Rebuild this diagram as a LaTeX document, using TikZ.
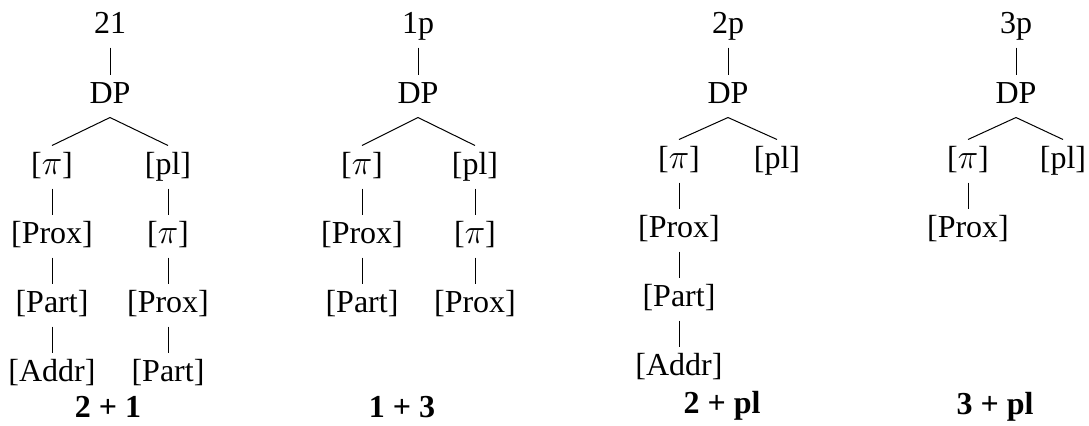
\documentclass[tikz,border=0pt]{standalone}
\usepackage{fontspec}
\setmainfont{Liberation Serif}
\begin{document}
\begin{tikzpicture}[x=0.5pt, y=-0.5pt, font=\fontsize{16}{19}\selectfont, line width=0.5pt,
    feat/.style={anchor=base, inner sep=1pt, text height=13pt, text depth=6pt},
    sum/.style={anchor=base, font=\fontsize{16}{19}\selectfont\bfseries}]
    \useasboundingbox (0,0) rectangle (1089,425);
    % 2 + 1
    \node[feat] (a0) at (110,33) {21};
    \node[feat] (ad) at (110,103) {DP};
    \node[feat] (al1) at (52,174) {[$\pi$]};
    \node[feat] (al2) at (52,243) {[Prox]};
    \node[feat] (al3) at (52,312) {[Part]};
    \node[feat] (al4) at (52,381) {[Addr]};
    \node[feat] (ar1) at (168,174) {[pl]};
    \node[feat] (ar2) at (168,243) {[$\pi$]};
    \node[feat] (ar3) at (168,312) {[Prox]};
    \node[feat] (ar4) at (168,381) {[Part]};
    \node[sum] (as) at (108,417) {2 + 1};
    % 1 + 3
    \node[feat] (b0) at (418,33) {1p};
    \node[feat] (bd) at (418,103) {DP};
    \node[feat] (bl1) at (362,174) {[$\pi$]};
    \node[feat] (bl2) at (362,243) {[Prox]};
    \node[feat] (bl3) at (362,312) {[Part]};
    \node[feat] (br1) at (475,174) {[pl]};
    \node[feat] (br2) at (475,243) {[$\pi$]};
    \node[feat] (br3) at (475,312) {[Prox]};
    \node[sum] (bs) at (402,417) {1 + 3};
    % 2 + pl
    \node[feat] (c0) at (728,33) {2p};
    \node[feat] (cd) at (728,103) {DP};
    \node[feat] (cl1) at (679,168) {[$\pi$]};
    \node[feat] (cl2) at (679,237) {[Prox]};
    \node[feat] (cl3) at (679,306) {[Part]};
    \node[feat] (cl4) at (679,375) {[Addr]};
    \node[feat] (cr1) at (777,168) {[pl]};
    \node[sum] (cs) at (722,413) {2 + pl};
    % 3 + pl
    \node[feat] (d0) at (1016,33) {3p};
    \node[feat] (dd) at (1016,103) {DP};
    \node[feat] (dl1) at (968,168) {[$\pi$]};
    \node[feat] (dl2) at (968,237) {[Prox]};
    \node[feat] (dr1) at (1063,168) {[pl]};
    \node[sum] (ds) at (995,414) {3 + pl};
    % branches
    \foreach \u/\v in {a0/ad, ad/al1, ad/ar1, al1/al2, al2/al3, al3/al4, ar1/ar2, ar2/ar3, ar3/ar4,
        b0/bd, bd/bl1, bd/br1, bl1/bl2, bl2/bl3, br1/br2, br2/br3,
        c0/cd, cd/cl1, cd/cr1, cl1/cl2, cl2/cl3, cl3/cl4,
        d0/dd, dd/dl1, dd/dr1, dl1/dl2}
    \draw (\u.south) -- (\v.north);
\end{tikzpicture}
\end{document}
